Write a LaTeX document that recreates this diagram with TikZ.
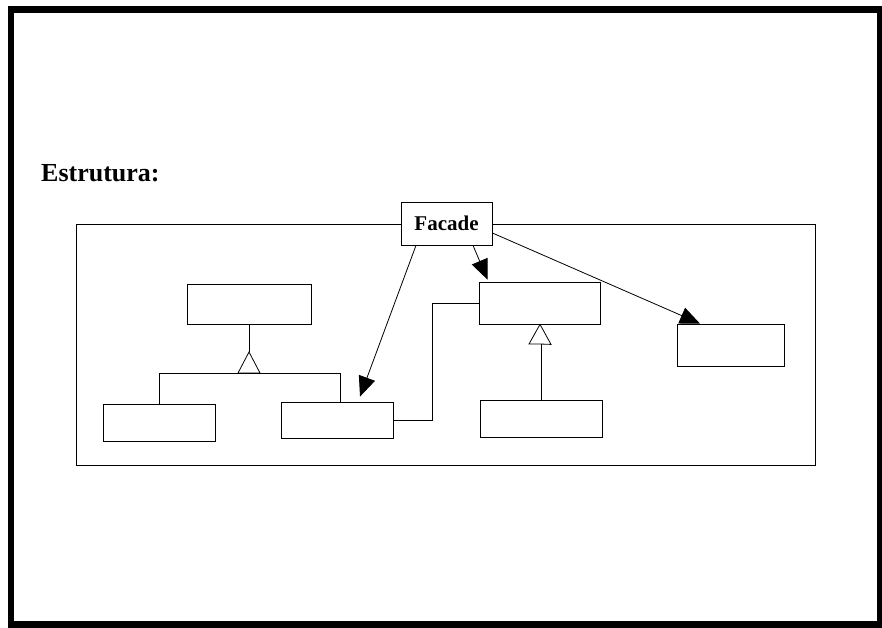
\documentclass[tikz,border=0pt]{standalone}
\usepackage{fontspec}
\setmainfont{Liberation Serif}
\usetikzlibrary{arrows.meta}

\begin{document}
\begin{tikzpicture}[x=1pt, y=-1pt,
        classbox/.style={draw=black, line width=0.8, fill=white, inner sep=0, minimum width=#1},
        classbox/.default=112,
        assoc/.style={line width=0.8, color=black, -{Triangle[length=20pt, width=17pt]}},
        thinline/.style={line width=0.8, color=black}]
        \useasboundingbox (0, 0) rectangle (882, 628);

        % Frame:
        \draw[line width=6.5, color=black] (11, 9.5) rectangle (880, 624.5);

        % Title:
        \node[anchor=base west, font=\fontsize{26}{30}\selectfont\bfseries, inner sep=0] (title) at (41, 182) {Estrutura:};

        % Subsystem:
        \draw[thinline] (76, 224.5) rectangle (815, 465.5);

        % Classes:
        \node[classbox=91, minimum height=43, font=\fontsize{21}{24}\selectfont\bfseries] (facade) at (446.5, 223.5) {Facade};
        \node[classbox=121, minimum height=42] (a) at (540, 303) {};
        \node[classbox=124, minimum height=40] (d) at (249, 304) {};
        \node[classbox=112, minimum height=37] (b) at (159, 422.5) {};
        \node[classbox=112, minimum height=36] (c) at (337, 420) {};
        \node[classbox=107, minimum height=42] (e) at (730.5, 345) {};
        \node[classbox=122, minimum height=37] (f) at (541, 418.5) {};

        % Generalization on the left:
        \coordinate (gen1) at (249, 373);
        \draw[thinline] (d.south) -- ++(0, 28);
        \draw[thinline] (gen1) -- ++(-11, 0) -- ++(11, -21) -- ++(11, 21) -- cycle;
        \draw[thinline] (b.north) |- (gen1);
        \draw[thinline] ([xshift=3pt]c.north) |- (gen1);

        % Generalization on the right:
        \coordinate (gen2) at (540, 344);
        \draw[thinline] (gen2) -- ++(-11, 0) -- (a.south) -- ++(11, 20) -- cycle;
        \draw[thinline] (f.north) -- (f.north |- gen2);

        % Link between the two groups:
        \draw[thinline] (a.west) -- ++(-47, 0) |- (c.east);

        % Facade arrows:
        \draw[assoc] ([xshift=26.5pt]facade.south) -- ([xshift=-52.5pt, yshift=2pt]a.north);
        \draw[assoc] ([xshift=-30.5pt]facade.south) -- ([xshift=23pt, yshift=5pt]c.north);
        \draw[assoc] ([yshift=-9.5pt]facade.east) -- ([xshift=-30.5pt]e.north);
    \end{tikzpicture}
\end{document}
